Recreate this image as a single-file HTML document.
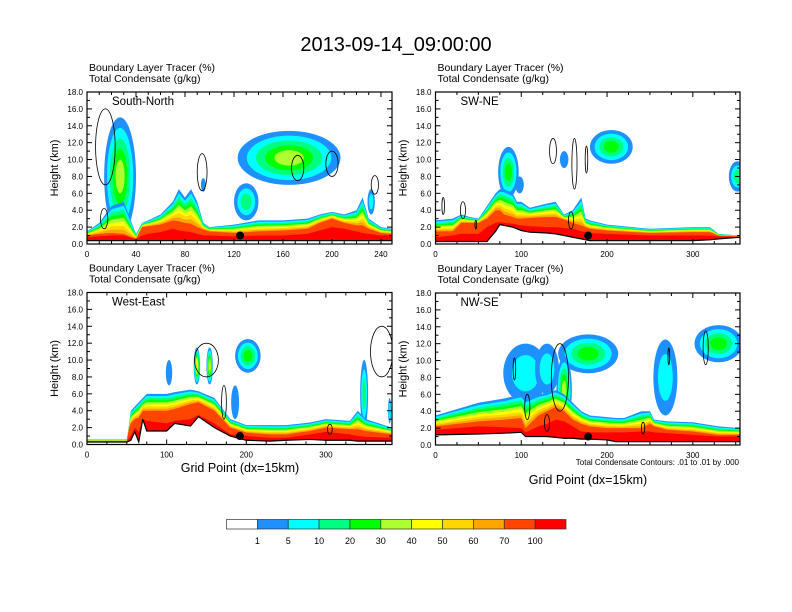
<!DOCTYPE html>
<html><head><meta charset="utf-8">
<style>
html,body{margin:0;padding:0;background:#fff;}
svg{display:block;font-family:"Liberation Sans",Arial,sans-serif;}
</style></head>
<body>
<svg id="chart" width="792" height="612" viewBox="0 0 792 612" xmlns="http://www.w3.org/2000/svg">
<text x="396" y="51" text-anchor="middle" font-size="20">2013-09-14_09:00:00</text>
</svg>
<script>
// ---- colorbar data ----
const cbLabels = ["1","5","10","20","30","40","50","60","70","100"];
const cbColors = ["#ffffff","#1e90ff","#00ffff","#00ff80","#00ff00","#adff2f","#ffff00","#ffd700","#ffa500","#ff4500","#ff0000"];

// ---- panel: South-North ----
const snGp      = [0,10,20,30,40,45,50,60,70,75,80,85,90,95,100,120,140,160,180,190,200,210,220,225,230,240,249];
const snTerrain = [0.4,0.4,0.4,0.4,0.4,0.4,0.4,0.4,0.4,0.4,0.4,0.4,0.4,0.4,0.4,0.4,0.4,0.4,0.4,0.4,0.4,0.4,0.4,0.4,0.4,0.4,0.4];
const snRedTop  = [0.8,0.9,1.0,1.0,0.6,1.0,1.2,1.4,1.8,1.6,1.5,1.4,1.2,1.0,1.0,0.9,1.0,1.0,1.2,1.6,2.0,1.8,1.5,1.3,1.2,1.0,1.0];
const snOrTop   = [1.0,1.2,1.3,1.2,0.6,2.0,2.1,2.3,2.8,2.7,2.5,2.4,2.0,1.7,1.5,1.3,1.5,1.6,1.8,2.5,3.0,2.5,2.2,2.2,1.8,1.3,1.2];
const snOuter   = [1.5,2.5,4.5,5.0,1.2,2.5,2.8,3.5,5.0,6.5,5.5,6.5,5.0,2.5,2.0,2.3,2.8,2.8,3.0,3.5,3.8,3.5,4.0,5.5,3.0,2.0,1.8];
// clouds: [gridpoint, height, half-width (gp), half-height (km), levels]
const snClouds  = [[27,8,13,7,5],[165,10.2,42,3.2,5],[130,5,10,2.2,3],[232,5,3,1.5,2],[95,7,2,0.8,1]];
const snContours= [[15,11.5,8,4.5],[94,8.5,4,2.2],[172,9,5,1.5],[200,9.5,5,1.5],[235,7,3,1.1],[14,3,3,1.2]];
const snDot     = [125,1.0];

// ---- panel: SW-NE ----
const swGp      = [0,20,30,40,50,60,70,75,80,90,95,100,110,130,140,150,160,170,175,180,200,250,300,320,330,355];
const swTerrain = [0.3,0.3,0.3,0.3,0.3,0.3,1.5,2.3,2.2,2.0,1.8,1.6,1.4,1.3,1.2,1.0,0.8,0.6,0.5,0.4,0.4,0.4,0.4,0.5,0.6,0.8];
const swRedTop  = [0.8,1.0,1.2,1.2,1.2,2.0,2.5,2.6,2.5,2.4,2.3,2.2,2.1,2.0,2.0,1.9,1.8,1.5,1.4,1.3,1.2,1.0,1.0,1.0,0.9,0.8];
const swOrTop   = [1.5,1.5,2.5,2.5,2.5,3.0,4.0,4.0,3.5,3.2,3.0,3.0,3.1,3.2,3.2,2.9,2.5,2.2,2.0,1.8,1.6,1.3,1.4,1.4,1.0,0.9];
const swOuter   = [2.8,3.0,3.5,3.2,3.0,4.5,6.0,6.5,6.5,6.0,5.0,5.0,4.3,4.8,5.0,3.5,4.0,5.5,3.0,2.8,2.3,1.8,2.0,2.0,1.2,1.0];
const swClouds  = [[85,8.5,12,3,4],[205,11.5,25,2,4],[352,8,10,1.8,3],[150,10,5,1,1],[98,7,5,1,1]];
const swContours= [[137,11,4,1.5],[162,9.5,3,3],[176,10,1.5,1.6],[9,4.5,1.5,1],[32,4,3,1],[158,2.8,3,1],[47,2.3,1,0.5]];
const swDot     = [178,1.0];

// ---- panel: West-East ----
const weGp      = [0,50,53,55,60,65,70,75,100,110,130,140,160,180,200,230,250,280,300,330,340,350,383];
const weTerrain = [0.3,0.3,0.4,0.5,1.5,0.3,3.0,1.6,1.6,2.5,2.2,3.3,2.0,1.0,0.5,0.4,0.5,0.6,0.5,0.5,0.4,0.4,0.4];
const weRedTop  = [0.3,0.3,0.8,1.0,2.0,1.5,3.0,2.8,2.5,2.8,3.0,3.5,2.5,1.2,1.0,0.8,0.8,1.2,1.5,1.2,1.0,0.9,0.8];
const weOrTop   = [0.4,0.4,2.0,2.5,3.0,3.2,4.0,4.0,4.0,4.2,4.8,5.0,4.0,2.0,1.4,1.2,1.2,1.6,2.0,1.8,1.8,1.6,1.2];
const weOuter   = [0.6,0.6,2.5,4.0,4.5,5.0,5.5,6.0,6.0,6.2,6.5,6.3,5.5,3.0,2.3,2.3,2.3,2.6,3.0,2.8,4.0,3.0,2.0];
const weClouds  = [[138,9.3,4,2.2,7],[154,9.3,4,2.2,6],[202,10.5,16,2,4],[103,8.5,4,1.5,1],[348,6,5,4,3],[186,5,5,2,1],[380,4,2,1.5,3]];
const weContours= [[150,10,15,2],[370,11,14,3],[172,5,3,2],[305,1.8,3,0.6]];
const weDot     = [192,1.0];

// ---- panel: NW-SE ----
const nwGp      = [0,50,80,100,105,120,130,140,150,160,170,180,200,210,220,240,250,255,270,300,330,355];
const nwTerrain = [1.2,1.3,1.4,1.5,1.0,1.0,1.0,0.9,0.8,0.8,0.7,0.7,0.6,0.4,0.4,0.4,0.4,0.4,0.4,0.4,0.4,0.4];
const nwRedTop  = [1.8,2.2,2.1,2.0,1.5,2.2,2.5,3.0,2.8,2.2,1.6,1.5,1.5,1.5,1.5,1.6,1.6,1.5,1.4,1.2,1.0,1.0];
const nwOrTop   = [2.2,2.8,3.0,3.2,2.0,3.5,4.0,4.5,4.0,3.0,2.5,2.2,2.0,2.0,2.0,2.0,2.5,2.2,1.8,1.6,1.2,1.2];
const nwOuter   = [3.5,5.0,5.5,6.0,5.5,6.0,6.2,6.5,6.0,5.0,4.0,3.5,3.3,3.2,3.2,4.0,4.0,3.0,2.8,2.7,2.2,2.0];
const nwClouds  = [[105,8.5,26,3.5,2],[178,10.8,35,2.3,4],[150,6.5,9,4,5],[330,12,28,2.2,4],[268,8,14,4.5,2],[130,9,14,3,2]];
const nwContours= [[145,8,10,4],[92,9,1.5,1.3],[107,4.5,3,1.5],[315,11.5,3,2],[272,10.5,1,1],[242,2,2,0.7],[130,2.6,3,1]];
const nwDot     = [178,1.0];

const panels = [
  {name:"south-north", label:"South-North", x0:87,x1:392,y0:92,y1:244, xmax:249, xticks:[0,40,80,120,160,200,240], gp:snGp, terr:snTerrain, red:snRedTop, or:snOrTop, outer:snOuter, clouds:snClouds, cont:snContours, dot:snDot, xtitle:null},
  {name:"sw-ne", label:"SW-NE", x0:435.5,x1:740,y0:92,y1:244, xmax:355, xticks:[0,100,200,300], gp:swGp, terr:swTerrain, red:swRedTop, or:swOrTop, outer:swOuter, clouds:swClouds, cont:swContours, dot:swDot, xtitle:null},
  {name:"west-east", label:"West-East", x0:87,x1:392,y0:292.5,y1:444.5, xmax:383, xticks:[0,100,200,300], gp:weGp, terr:weTerrain, red:weRedTop, or:weOrTop, outer:weOuter, clouds:weClouds, cont:weContours, dot:weDot, xtitle:[240,472]},
  {name:"nw-se", label:"NW-SE", x0:435.5,x1:740,y0:293,y1:445, xmax:355, xticks:[0,100,200,300], gp:nwGp, terr:nwTerrain, red:nwRedTop, or:nwOrTop, outer:nwOuter, clouds:nwClouds, cont:nwContours, dot:nwDot, xtitle:[588,484]}
];
const yTicks = [0,2,4,6,8,10,12,14,16,18];

const NS="http://www.w3.org/2000/svg";
const svg=document.getElementById('chart');
function mk(tag,attrs,parent){const e=document.createElementNS(NS,tag);for(const k in attrs)e.setAttribute(k,attrs[k]);(parent||svg).appendChild(e);return e;}
const bandColors=["#1e90ff","#00ffff","#00ff80","#00ff00","#adff2f","#ffff00","#ffd700","#ffa500"];

panels.forEach((p,pi)=>{
  const sx=v=>p.x0+(v/p.xmax)*(p.x1-p.x0);
  const sy=h=>p.y1-(h/18)*(p.y1-p.y0);
  const g=mk('g',{});
  
  
  const cid='clip'+pi;
  const cp=mk('clipPath',{id:cid},g); mk('rect',{x:p.x0,y:p.y0,width:p.x1-p.x0,height:p.y1-p.y0},cp);
  const plot=mk('g',{'clip-path':'url(#'+cid+')'},g);
  function area(topFn,fill,nm){
    let d='M'+sx(p.gp[0])+','+sy(p.terr[0]);
    p.gp.forEach((x,i)=>{d+=' L'+sx(x)+','+sy(topFn(i));});
    for(let i=p.gp.length-1;i>=0;i--) d+=' L'+sx(p.gp[i])+','+sy(p.terr[i]);
    const a=mk('path',{d:d+'Z',fill:fill},plot);
    
    
  }
  p.clouds.forEach(c=>{
    for(let k=0;k<c[4];k++){
      const f=1-k/(c[4]+0.6);
      const e=mk('ellipse',{cx:sx(c[0]),cy:sy(c[1]),rx:Math.abs(sx(c[2]*f)-sx(0)),ry:Math.abs(sy(c[3]*f)-sy(0)),fill:bandColors[k]},plot);
      
      
    }
  });
  for(let k=0;k<8;k++){
    area(i=>p.or[i]+(p.outer[i]-p.or[i])*(8-k)/8, bandColors[k], 'tracer-band');
  }
  area(i=>p.or[i],"#ff4500",'tracer-band-70');
  area(i=>p.red[i],"#ff0000",'tracer-band-100');
  let td='M'+sx(p.gp[0])+','+sy(0);
  p.gp.forEach((x,i)=>{td+=' L'+sx(x)+','+sy(p.terr[i]);});
  td+=' L'+sx(p.gp[p.gp.length-1])+','+sy(0)+'Z';
  const tr=mk('path',{d:td,fill:'#fff'},plot);
  
  
  let tl='M'+sx(p.gp[0])+','+sy(p.terr[0]);
  p.gp.forEach((x,i)=>{tl+=' L'+sx(x)+','+sy(p.terr[i]);});
  const tline=mk('path',{d:tl,fill:'none',stroke:'#000','stroke-width':1.2},plot);
  
  
  p.cont.forEach(c=>{
    const e=mk('ellipse',{cx:sx(c[0]),cy:sy(c[1]),rx:Math.abs(sx(c[2])-sx(0)),ry:Math.abs(sy(c[3])-sy(0)),fill:'none',stroke:'#000','stroke-width':0.8},plot);
    
    
  });
  const dot=mk('circle',{cx:sx(p.dot[0]),cy:sy(p.dot[1]),r:4,fill:'#000'},plot);
  
  
  const fr=mk('rect',{x:p.x0,y:p.y0,width:p.x1-p.x0,height:p.y1-p.y0,fill:'none',stroke:'#000','stroke-width':1.2},g);
  
  
  yTicks.forEach(t=>{
    const y=sy(t);
    mk('line',{x1:p.x0,x2:p.x0+5,y1:y,y2:y,stroke:'#000'},g);
    mk('line',{x1:p.x1,x2:p.x1-5,y1:y,y2:y,stroke:'#000'},g);
    if(t<18){const ym=sy(t+1);mk('line',{x1:p.x0,x2:p.x0+3,y1:ym,y2:ym,stroke:'#000'},g);mk('line',{x1:p.x1,x2:p.x1-3,y1:ym,y2:ym,stroke:'#000'},g);}
    const lt=mk('text',{x:p.x0-4,y:y+3,'text-anchor':'end','font-size':8},g);
    lt.textContent=t.toFixed(1);
    
    
  });
  const step=p.xticks[1]-p.xticks[0];
  for(let v=0;v<=p.xmax;v+=step/4){
    const x=sx(v), major=(v%step===0);
    mk('line',{x1:x,x2:x,y1:p.y1,y2:p.y1-(major?5:3),stroke:'#000'},g);
    mk('line',{x1:x,x2:x,y1:p.y0,y2:p.y0+(major?5:3),stroke:'#000'},g);
  }
  p.xticks.forEach(t=>{
    const lt=mk('text',{x:sx(t),y:p.y1+13,'text-anchor':'middle','font-size':8},g);
    lt.textContent=t;
    
    
  });
  const yt=mk('text',{x:0,y:0,'text-anchor':'middle','font-size':11,transform:'translate('+(p.x0-29)+','+((p.y0+p.y1)/2)+') rotate(-90)'},g);
  yt.textContent='Height (km)';
  
  
  const h1=mk('text',{x:p.x0+2,y:p.y0-21,'font-size':10.5},g);
  h1.textContent='Boundary Layer Tracer   (%)';
  
  
  const h2=mk('text',{x:p.x0+2,y:p.y0-10,'font-size':10.5},g);
  h2.textContent='Total Condensate   (g/kg)';
  
  
  const lb=mk('text',{x:p.x0+25,y:p.y0+13,'font-size':11.5},g);
  lb.textContent=p.label;
  
  
  if(p.xtitle){
    const xt=mk('text',{x:p.xtitle[0],y:p.xtitle[1],'text-anchor':'middle','font-size':12.5},g);
    xt.textContent='Grid Point (dx=15km)';
    
    
  }
});
const note=mk('text',{x:739,y:465,'text-anchor':'end','font-size':8});
note.textContent='Total Condensate Contours: .01 to .01 by .000';



const cb=mk('g',{});


const cbx0=226.5, cbw=(566-226.5)/cbColors.length;
cbColors.forEach((c,i)=>{
  const r=mk('rect',{x:cbx0+i*cbw,y:519.5,width:cbw,height:9.5,fill:c,stroke:'#333','stroke-width':0.7},cb);
  
  
});
cbLabels.forEach((l,i)=>{
  const t=mk('text',{x:cbx0+(i+1)*cbw,y:544,'text-anchor':'middle','font-size':9},cb);
  t.textContent=l;
  
  
});
</script>
</body></html>
